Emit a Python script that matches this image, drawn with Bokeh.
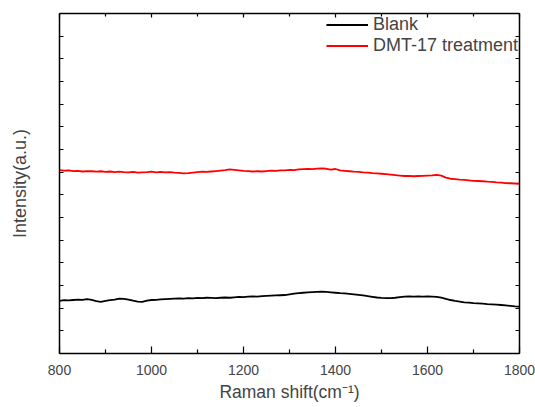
from bokeh.plotting import figure
from bokeh.models import LinearAxis, FixedTicker, Range1d, Legend, LegendItem
from bokeh.embed import file_html
from bokeh.resources import INLINE

raman_shift = list(range(800, 1801, 10))

blank = [
    2.32, 2.35, 2.34, 2.36, 2.38, 2.37, 2.40, 2.37, 2.31, 2.28,
    2.32, 2.35, 2.38, 2.42, 2.41, 2.38, 2.33, 2.29, 2.28, 2.33,
    2.36, 2.37, 2.39, 2.40, 2.41, 2.42, 2.43, 2.42, 2.44, 2.43,
    2.45, 2.44, 2.46, 2.45, 2.44, 2.46, 2.47, 2.46, 2.48, 2.50,
    2.49, 2.51, 2.52, 2.51, 2.53, 2.54, 2.55, 2.56, 2.57, 2.58,
    2.61, 2.64, 2.66, 2.68, 2.70, 2.71, 2.72, 2.73, 2.72, 2.70,
    2.68, 2.66, 2.65, 2.63, 2.61, 2.59, 2.56, 2.53, 2.50, 2.47,
    2.45, 2.44, 2.44, 2.46, 2.49, 2.51, 2.52, 2.51, 2.52, 2.51,
    2.52, 2.51, 2.50, 2.46, 2.41, 2.36, 2.32, 2.29, 2.26, 2.24,
    2.22, 2.21, 2.20, 2.18, 2.17, 2.16, 2.14, 2.12, 2.10, 2.08,
    2.07,
]

dmt17 = [
    8.09, 8.07, 8.08, 8.05, 8.06, 8.03, 8.05, 8.04, 8.02, 8.04,
    8.01, 8.03, 8.00, 8.02, 8.00, 7.99, 8.01, 7.98, 7.99, 8.00,
    8.02, 7.99, 8.01, 7.99, 8.00, 7.98, 7.97, 7.95, 7.96, 7.98,
    8.00, 8.02, 8.01, 8.03, 8.05, 8.07, 8.09, 8.12, 8.10, 8.08,
    8.06, 8.05, 8.03, 8.04, 8.03, 8.05, 8.07, 8.06, 8.08, 8.08,
    8.10, 8.09, 8.12, 8.13, 8.14, 8.13, 8.16, 8.17, 8.15, 8.11,
    8.14, 8.08, 8.06, 8.04, 8.02, 8.01, 7.99, 7.98, 7.96, 7.95,
    7.93, 7.91, 7.89, 7.87, 7.85, 7.83, 7.84, 7.82, 7.83, 7.84,
    7.85, 7.86, 7.88, 7.85, 7.76, 7.71, 7.69, 7.67, 7.66, 7.64,
    7.62, 7.61, 7.60, 7.58, 7.57, 7.55, 7.54, 7.52, 7.51, 7.50,
    7.49,
]

x_major = [800, 1000, 1200, 1400, 1600, 1800]
x_minor = [900, 1100, 1300, 1500, 1700]
y_major = list(range(0, 16))

FONT = "Liberation Sans"

p = figure(width=535, height=407, output_backend="svg", toolbar_location=None,
           x_range=Range1d(800, 1800), y_range=Range1d(0, 15),
           x_axis_type=None, y_axis_type=None,
           min_border_left=59, min_border_right=16,
           min_border_top=13, min_border_bottom=54)
p.outline_line_color = None
p.background_fill_color = "white"
p.border_fill_color = "white"

def style_axis(ax, ticks, minor, labels=True, tin=7, minin=4):
    ax.ticker = FixedTicker(ticks=ticks, minor_ticks=minor)
    ax.axis_line_width = 1.5
    ax.axis_line_color = "black"
    ax.major_tick_in = tin
    ax.major_tick_out = 0
    ax.minor_tick_in = minin
    ax.minor_tick_out = 0
    ax.major_tick_line_width = 1.2
    ax.minor_tick_line_width = 1.2
    ax.major_label_text_font = FONT
    ax.axis_label_text_font = FONT
    ax.axis_label_text_font_style = "normal"
    if not labels:
        ax.major_label_overrides = {t: "" for t in ticks}
        ax.major_label_text_font_size = "1px"
        ax.major_label_standoff = 0

xb = LinearAxis(axis_label="Raman shift(cm⁻¹)")
style_axis(xb, x_major, x_minor)
xb.major_label_text_font_size = "14px"
xb.major_label_standoff = 11
xb.axis_label_text_font_size = "17.5px"
xb.axis_label_standoff = 4
p.add_layout(xb, "below")

xt = LinearAxis()
style_axis(xt, x_major, x_minor, labels=False, tin=4, minin=3)
p.add_layout(xt, "above")

yl = LinearAxis(axis_label="Intensity(a.u.)")
style_axis(yl, y_major, [], labels=False, tin=4)
yl.axis_label_text_font_size = "18px"
yl.axis_label_standoff = 30
p.add_layout(yl, "left")

yr = LinearAxis()
style_axis(yr, y_major, [], labels=False, tin=4)
p.add_layout(yr, "right")

r1 = p.line(raman_shift, blank, line_color="black", line_width=1.8)
r2 = p.line(raman_shift, dmt17, line_color="#FF0000", line_width=1.8)

legend = Legend(items=[LegendItem(label="Blank", renderers=[r1]),
                       LegendItem(label="DMT-17 treatment", renderers=[r2])],
                location="top_right")
legend.border_line_color = None
legend.background_fill_alpha = 0
legend.label_text_font = FONT
legend.label_text_font_size = "18px"
legend.glyph_width = 42
legend.glyph_height = 21
legend.label_height = 21
legend.spacing = 0
legend.padding = 3
legend.margin = 1
legend.label_standoff = 5
p.add_layout(legend)

open("out.html", "w").write(file_html(p, INLINE))
